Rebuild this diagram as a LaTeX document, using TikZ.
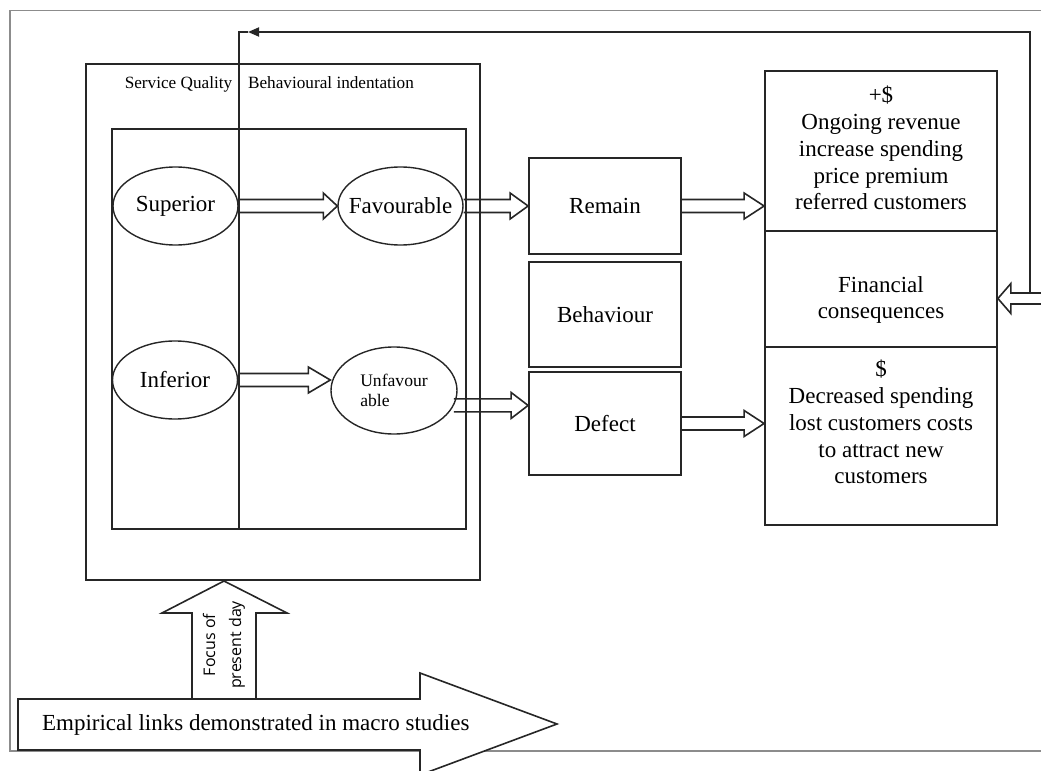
\documentclass[tikz,border=0pt]{standalone}
\usepackage{fontspec}
\setmainfont{Liberation Serif}
\newfontfamily\focusfont{Open Sans}
\usetikzlibrary{arrows.meta}
\usetikzlibrary{calc,shapes.geometric}

\begin{document}
\begin{tikzpicture}[x=0.5pt,y=-0.5pt,
    every node/.style={font=\fontsize{11.5}{13.4}\selectfont},
    wire/.style={draw=black!85,line width=0.9pt},
    box/.style={draw=black!85,line width=0.9pt,inner sep=0pt,minimum width=76pt},
    oval/.style={draw=black!85,ellipse,line width=0.7pt,inner sep=0pt,minimum width=62.5pt,minimum height=39pt},
    fat/.style={draw=black!85,line width=0.8pt,line join=miter},
    frame/.style={draw=black!45,line width=0.7pt},
    small/.style={font=\fontsize{8.6}{10}\selectfont}]

    \useasboundingbox (0,0) rectangle (1041,771);
    \clip (0,0) rectangle (1041,771);

    % frame
    \draw[frame] (1041,10.5) -- (10,10.5) -- (10,751) -- (1041,751);

    % service quality block
    \draw[wire] (86,64) rectangle (480,580);
    \draw[wire] (112,129) rectangle (466,529);
    \node[small,anchor=base] (sq) at (178.5,89) {Service Quality};
    \node[small,anchor=base] (bi) at (331,89) {Behavioural indentation};

    \node[oval] (sup) at (175.5,206) {Superior};
    \node[oval,inner xsep=-4pt] (fav) at (400.5,206) {Favourable};
    \node[oval] (inf) at (175,380) {Inferior};
    \node[oval,minimum width=63pt,minimum height=43.5pt,font=\fontsize{8.8}{10}\selectfont,align=left] (unf) at (394,390.5) {Unfavour\\able};

    % behaviour
    \node[box,minimum height=48pt] (rem) at (605,206) {Remain};
    \node[box,minimum height=52.5pt] (beh) at (605,314.5) {Behaviour};
    \node[box,minimum height=51.5pt] (def) at (605,423.5) {Defect};

    % financial consequences
    \node[box,minimum width=116pt,minimum height=227pt] (fin) at (881,298) {};
    \coordinate (cut1) at (0,231);
    \coordinate (cut2) at (0,347);
    \draw[wire] (fin.west |- cut1) -- (fin.east |- cut1);
    \draw[wire] (fin.west |- cut2) -- (fin.east |- cut2);
    \node[align=center] (gain) at (881,148) {+\$\\Ongoing revenue\\increase spending\\price premium\\referred customers};
    \node[align=center] (cons) at (881,300) {Financial\\consequences};
    \node[align=center] (loss) at (881,422) {\$\\Decreased spending\\lost customers costs\\to attract new\\customers};

    % feedback
    \coordinate (fb) at (1030,293);
    \coordinate (fbtip) at (248,32);
    \coordinate (divbot) at (239,529);
    \draw[wire,-{Triangle[length=5.5pt,width=4.5pt]}] (fb) |- (fbtip);
    \draw[wire] (fbtip) -| (divbot);

    \coordinate (t1) at (fav.west |- sup.east);
    \coordinate (t2) at (unf.west |- inf.east);
    \coordinate (t3) at (rem.west |- fav.east);
    \coordinate (t4) at (def.west |- unf.-14);
    \coordinate (t5) at (fin.west |- rem.east);
    \coordinate (t6) at (fin.west |- def.east);

    \foreach \src/\dst/\hl in {sup.east/t1/14, inf.east/t2/22, fav.east/t3/18, unf.-14/t4/17, rem.east/t5/20, def.east/t6/20}
        \draw[fat] ($(\src)+(0,-6.5)$) -- ($(\dst)+(-\hl,-6.5)$) -- ($(\dst)+(-\hl,-13)$) -- (\dst)
            -- ($(\dst)+(-\hl,13)$) -- ($(\dst)+(-\hl,6.5)$) -- ($(\src)+(0,6.5)$);

    \coordinate (edge) at (1041,298.5);
    \coordinate (t7) at (fin.east |- edge);
    \draw[fat] ($(edge)+(0,-5.5)$) -- ($(t7)+(13,-5.5)$) -- ($(t7)+(13,-15)$) -- (t7)
        -- ($(t7)+(13,15)$) -- ($(t7)+(13,5.5)$) -- ($(edge)+(0,5.5)$);

    % focus of present day
    \draw[fat,fill=white] (192,699) -- (192,613) -- (162,613) -- (224,581) -- (287,613) -- (256,613) -- (256,699);
    \node[font=\focusfont\fontsize{8}{13}\selectfont,rotate=90,align=center] (focus) at (224,645) {Focus of\\present day};

    % macro studies
    \draw[fat,fill=white] (18,699) -- (420,699) -- (420,673) -- (557,724) -- (420,775) -- (420,750) -- (18,750) -- cycle;
    \node[anchor=base west] (emp) at (35,730) {Empirical links demonstrated in macro studies};

\end{tikzpicture}
\end{document}
